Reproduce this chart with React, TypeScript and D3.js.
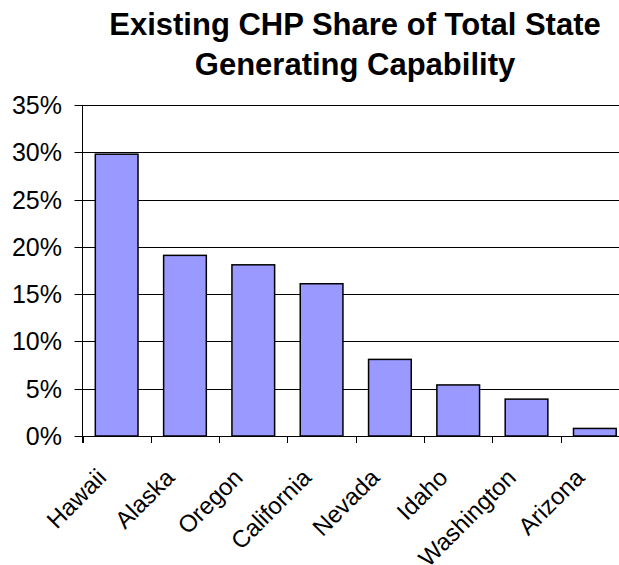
import React from "react";
import * as d3 from "d3";

const categories = ["Hawaii", "Alaska", "Oregon", "California", "Nevada", "Idaho", "Washington", "Arizona"];
const shares = [0.298, 0.191, 0.181, 0.161, 0.081, 0.054, 0.039, 0.008];
const yTicks = [0, 0.05, 0.1, 0.15, 0.2, 0.25, 0.3, 0.35];
const titleLines = ["Existing CHP Share of Total State", "Generating Capability"];

const W = 619;
const H = 565;
const FONT = "Arial, 'Liberation Sans', sans-serif";

export default function App() {
  const left = 82.5;
  const right = 629;
  const top = 105;
  const bottom = 436;

  const x = d3.scaleBand<string>().domain(categories).range([left, right]).paddingInner(0.375).paddingOuter(0.1875);
  const xb = d3.scaleBand<string>().domain(categories).range([left, right]);
  const y = d3.scaleLinear().domain([0, 0.35]).range([bottom, top]);
  const fmt = d3.format(".0%");
  const crisp = (v: number) => Math.round(v) + 0.5;

  return (
    <div style={{ position: "absolute", left: 0, top: 0 }}>
      <svg width={W} height={H} style={{ display: "block", background: "#fff" }} fontFamily={FONT}>
        {titleLines.map((t, i) => (
          <text key={t} x={355} y={35 + i * 40} textAnchor="middle" fontSize={31} fontWeight="bold" fill="#000">
            {t}
          </text>
        ))}
        {yTicks.map((t) => (
          <g key={t}>
            {t > 0 && <line x1={left} x2={W} y1={crisp(y(t))} y2={crisp(y(t))} stroke="#000" strokeWidth={1} />}
            <line x1={left - 8} x2={left} y1={crisp(y(t))} y2={crisp(y(t))} stroke="#000" strokeWidth={1} />
            <text x={62} y={y(t)} dy="0.36em" textAnchor="end" fontSize={25} fill="#000">
              {fmt(t)}
            </text>
          </g>
        ))}
        {categories.map((c, i) => (
          <rect
            key={c}
            x={x(c)!}
            y={y(shares[i])}
            width={x.bandwidth()}
            height={bottom - y(shares[i])}
            fill="#9999FF"
            stroke="#000"
            strokeWidth={1.5}
          />
        ))}
        <line x1={left} x2={left} y1={top} y2={bottom + 7} stroke="#000" strokeWidth={1} />
        <line x1={left} x2={W} y1={crisp(bottom)} y2={crisp(bottom)} stroke="#000" strokeWidth={1} />
        {categories.map((c) => (
          <line key={c} x1={crisp(xb(c)!)} x2={crisp(xb(c)!)} y1={bottom} y2={bottom + 7} stroke="#000" strokeWidth={1} />
        ))}
        {categories.map((c) => {
          const cx = xb(c)! + xb.bandwidth() / 2 - 9;
          const cy = bottom + 43;
          return (
            <text
              key={c}
              transform={`translate(${cx},${cy}) rotate(-45)`}
              textAnchor="end"
              fontSize={24}
              fill="#000"
            >
              {c}
            </text>
          );
        })}
      </svg>
    </div>
  );
}
